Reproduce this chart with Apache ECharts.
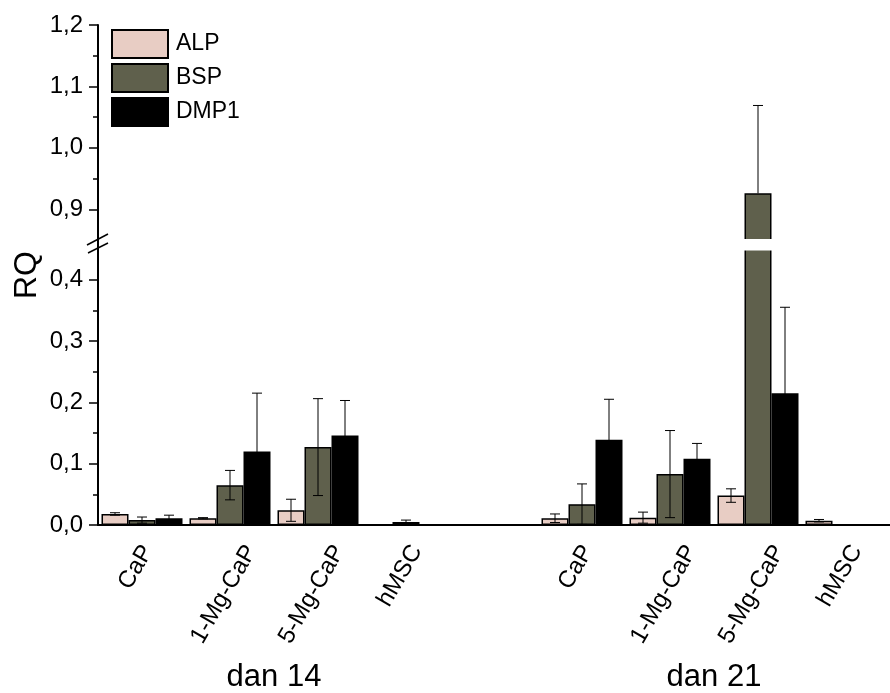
<!DOCTYPE html>
<html>
<head>
<meta charset="utf-8">
<script src="https://cdn.jsdelivr.net/npm/echarts@6/dist/echarts.min.js"></script>
<style>html,body{margin:0;padding:0;background:#fff;}#c{width:890px;height:693px;}</style>
</head>
<body>
<div id="c"></div>
<script>
// ---- data ----
const categories = ['CaP', '1-Mg-CaP', '5-Mg-CaP', 'hMSC', '', 'CaP', '1-Mg-CaP', '5-Mg-CaP', 'hMSC'];
const groupLabels = ['dan 14', 'dan 21'];
const seriesNames = ['ALP', 'BSP', 'DMP1'];
const alp     = [0.018, 0.011, 0.024, null, null, 0.011, 0.012, 0.048, 0.007];
const alpErr  = [0.002, 0.001, 0.018, null, null, 0.007, 0.009, 0.011, 0.002];
const bsp     = [0.008, 0.065, 0.127, 0.005, null, 0.034, 0.083, 0.926, null];
const bspErr  = [0.005, 0.024, 0.079, 0.003, null, 0.033, 0.071, 0.143, null];
const dmp1    = [0.011, 0.120, 0.146, null, null, 0.139, 0.108, 0.215, null];
const dmp1Err = [0.005, 0.095, 0.057, null, null, 0.066, 0.025, 0.140, null];
const upperMajor = [0.9, 1.0, 1.1, 1.2];
const upperMinor = [0.95, 1.05, 1.15];
const lowerMajor = [0.0, 0.1, 0.2, 0.3, 0.4];
const lowerMinor = [0.05, 0.15, 0.25, 0.35];
const upperRange = [0.85, 1.2];
const lowerRange = [0, 0.45];

// ---- layout / style ----
const FONT = 'Liberation Sans, Arial, sans-serif';
const colors = ['#e8cdc4', '#5f604c', '#000000'];
const G = { left: 98, width: 798, upTop: 25, upH: 215, loTop: 249, loH: 276 };
const BW = 27;
const offsets = [-BW, 0, BW];
const values = [alp, bsp, dmp1];
const errors = [alpErr, bspErr, dmp1Err];
const errColor = '#000';
const XFS = 24;

const chart = echarts.init(document.getElementById('c'), null, { renderer: 'canvas' });

function fmt(v) { return v.toFixed(1).replace('.', ','); }

function yMajor(gridIndex, range, ticks) {
  return {
    type: 'value', gridIndex, position: 'left', min: range[0], max: range[1],
    axisLine: { show: true, lineStyle: { color: '#000', width: 2 } },
    axisTick: { show: true, length: 9, lineStyle: { color: '#000', width: 1.5 }, customValues: ticks },
    axisLabel: { show: true, customValues: ticks, formatter: fmt, fontSize: 24, fontFamily: FONT, color: '#000', margin: 15 },
    splitLine: { show: false }
  };
}
function yMinor(gridIndex, range, ticks) {
  return {
    type: 'value', gridIndex, position: 'left', min: range[0], max: range[1],
    axisLine: { show: false },
    axisTick: { show: true, length: 5, lineStyle: { color: '#000', width: 1.5 }, customValues: ticks },
    axisLabel: { show: false },
    splitLine: { show: false }
  };
}

const series = [];
// bars
seriesNames.forEach((name, k) => {
  [[0, 0, upperRange], [1, 2, lowerRange]].forEach(([xi, yi, rng]) => {
    series.push({
      type: 'bar', name, xAxisIndex: xi, yAxisIndex: yi,
      data: values[k].map(v => (v == null || (xi === 0 && v < rng[0])) ? '-' : v),
      barWidth: BW, barGap: '0%',
      itemStyle: { color: colors[k], borderColor: '#000', borderWidth: 1.5 },
      emphasis: { disabled: true }, silent: true, clip: true, z: 2
    });
  });
});
// error bars
seriesNames.forEach((name, k) => {
  [[0, 0, upperRange], [1, 2, lowerRange]].forEach(([xi, yi, rng]) => {
    const data = [];
    values[k].forEach((v, i) => { if (v != null && errors[k][i] != null) data.push([i, v, errors[k][i]]); });
    series.push({
      type: 'custom', xAxisIndex: xi, yAxisIndex: yi, data, encode: { x: 0, y: 1 },
      silent: true, z: 5, clip: true,
      renderItem: (params, api) => {
        const i = api.value(0), v = api.value(1), e = api.value(2);
        if (v > rng[1] || v + e < rng[0] || v < rng[0]) return null;
        const x = api.coord([i, v])[0] + offsets[k];
        const yv = api.coord([i, v])[1];
        const topV = Math.min(v + e, rng[1]);
        const yT = api.coord([i, topV])[1];
        const lowOk = (v - e) >= rng[0];
        const yB = lowOk ? api.coord([i, v - e])[1] : yv;
        const st = { stroke: errColor, lineWidth: 1 };
        const ch = [{ type: 'line', shape: { x1: x, y1: yT, x2: x, y2: yB }, style: st }];
        if (v + e <= rng[1]) ch.push({ type: 'line', shape: { x1: x - 5, y1: yT, x2: x + 5, y2: yT }, style: st });
        if (lowOk) ch.push({ type: 'line', shape: { x1: x - 5, y1: yB, x2: x + 5, y2: yB }, style: st });
        return { type: 'group', children: ch };
      }
    });
  });
});

const option = {
  animation: false,
  backgroundColor: '#fff',
  textStyle: { fontFamily: FONT },
  legend: {
    data: seriesNames, orient: 'vertical', left: 111, top: 29, padding: 0,
    itemWidth: 56, itemHeight: 28, itemGap: 4, icon: 'rect', selectedMode: false,
    textStyle: { fontSize: 23, fontFamily: FONT, color: '#000', padding: [0, 0, 0, 3] }
  },
  grid: [
    { left: G.left, width: G.width, top: G.upTop, height: G.upH, containLabel: false },
    { left: G.left, width: G.width, top: G.loTop, height: G.loH, containLabel: false }
  ],
  xAxis: [
    { type: 'category', gridIndex: 0, data: categories, show: false },
    {
      type: 'category', gridIndex: 1, data: categories,
      axisLine: { show: true, lineStyle: { color: '#000', width: 2 } },
      axisTick: { show: false },
      axisLabel: { show: false }
    }
  ],
  yAxis: [
    yMajor(0, upperRange, upperMajor),
    yMinor(0, upperRange, upperMinor),
    yMajor(1, lowerRange, lowerMajor),
    yMinor(1, lowerRange, lowerMinor)
  ],
  series
};
chart.setOption(option);

// rotated category labels (placed like the original: text box centred under its tick)
const mctx = document.createElement('canvas').getContext('2d');
mctx.font = XFS + 'px Liberation Sans';
const xa = { xAxisIndex: 1 };
const baseY = G.loTop + G.loH;
const catTexts = categories.map((name, i) => {
  if (!name) return null;
  const tick = chart.convertToPixel(xa, i);
  const L = mctx.measureText(name).width;
  return {
    type: 'text', x: tick - 6 + 0.25 * L, y: baseY + 22, rotation: Math.PI / 3,
    style: { text: name, fontSize: XFS, fontFamily: FONT, fill: '#000', align: 'right', verticalAlign: 'middle' }
  };
}).filter(Boolean);

const c14 = (chart.convertToPixel(xa, 0) + chart.convertToPixel(xa, 3)) / 2;
const c21 = (chart.convertToPixel(xa, 5) + chart.convertToPixel(xa, 8)) / 2;
const gapMid = (G.upTop + G.upH + G.loTop) / 2;
chart.setOption({
  graphic: [
    { type: 'rect', shape: { x: G.left + 1.5, y: G.upTop + G.upH - 1, width: 900, height: G.loTop - G.upTop - G.upH + 2.5 }, style: { fill: '#fff' }, z: 9 },
    { type: 'line', shape: { x1: G.left, y1: G.upTop + G.upH - 1, x2: G.left, y2: G.loTop + 1 }, style: { stroke: '#000', lineWidth: 2 }, z: 10 },
    { type: 'line', shape: { x1: G.left - 11, y1: gapMid + 0.5, x2: G.left + 10, y2: gapMid - 10.5 }, style: { stroke: '#000', lineWidth: 1.5 }, z: 10 },
    { type: 'line', shape: { x1: G.left - 10, y1: gapMid + 8.5, x2: G.left + 10, y2: gapMid - 1.5 }, style: { stroke: '#000', lineWidth: 1.5 }, z: 10 },
    { type: 'text', x: 27, y: 275, rotation: Math.PI / 2, style: { text: 'RQ', fontSize: 32, fontFamily: FONT, fill: '#000', align: 'center', verticalAlign: 'middle' } },
    { type: 'text', x: c14, y: 677, style: { text: groupLabels[0], fontSize: 31, fontFamily: FONT, fill: '#000', align: 'center', verticalAlign: 'middle' } },
    { type: 'text', x: c21, y: 677, style: { text: groupLabels[1], fontSize: 31, fontFamily: FONT, fill: '#000', align: 'center', verticalAlign: 'middle' } }
  ].concat(catTexts)
});
</script>
</body>
</html>
